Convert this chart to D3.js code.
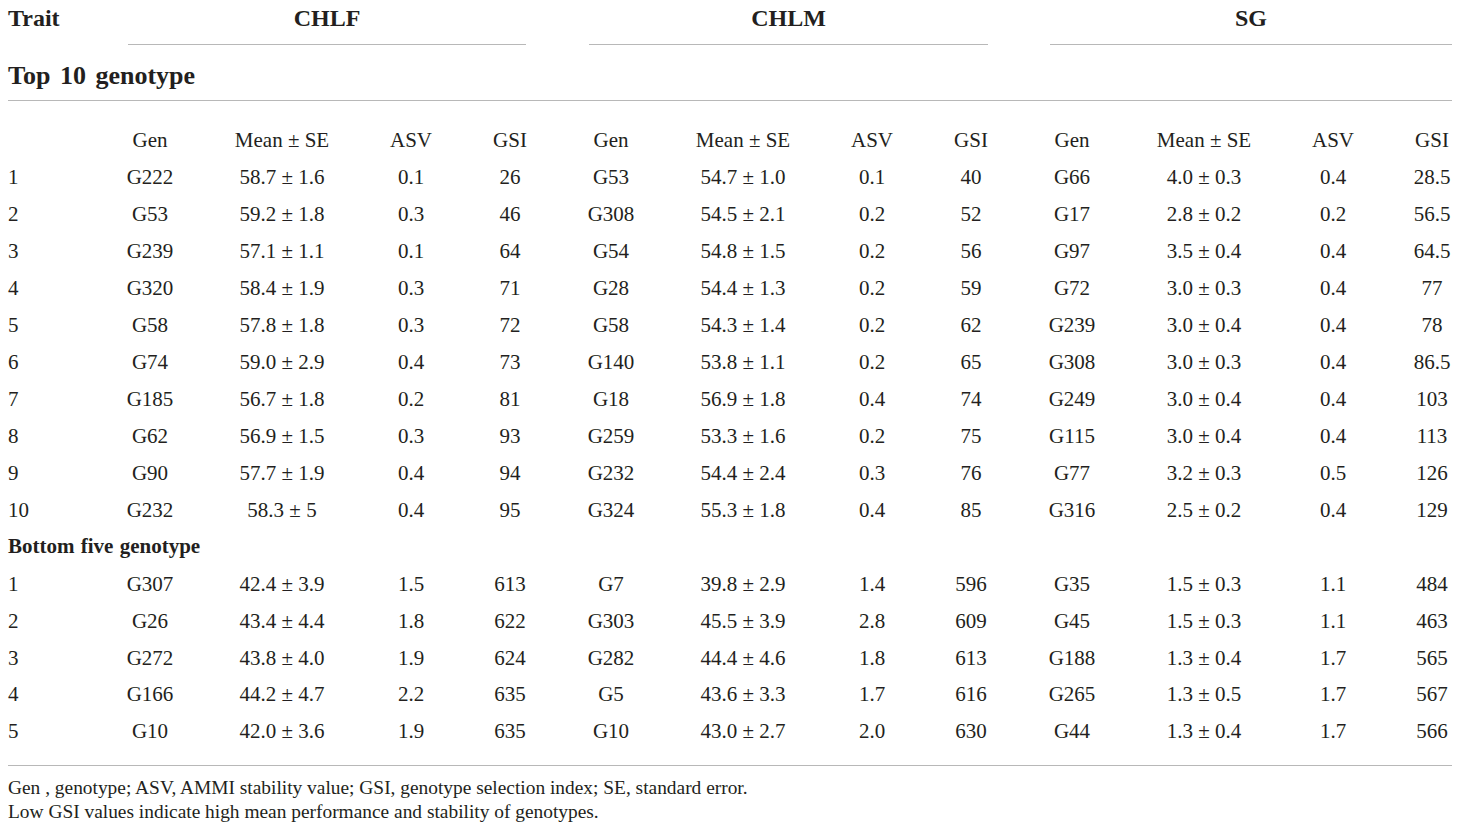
<!DOCTYPE html>
<html>
<head>
<meta charset="utf-8">
<script src="https://cdn.jsdelivr.net/npm/d3@7"></script>
<style>
  body { margin: 0; background: #fff; }
  svg text { font-family: "Liberation Serif", "Times New Roman", serif; fill: #231f20; }
</style>
</head>
<body>
<div id="table"></div>
<script>
// traits and column labels
const traits = ["CHLF", "CHLM", "SG"]
const subCols = ["Gen", "Mean ± SE", "ASV", "GSI"]

// top 10 genotypes per trait
const topGen = {
  CHLF: ["G222", "G53", "G239", "G320", "G58", "G74", "G185", "G62", "G90", "G232"],
  CHLM: ["G53", "G308", "G54", "G28", "G58", "G140", "G18", "G259", "G232", "G324"],
  SG:   ["G66", "G17", "G97", "G72", "G239", "G308", "G249", "G115", "G77", "G316"]
}
const topMean = {
  CHLF: ["58.7 ± 1.6", "59.2 ± 1.8", "57.1 ± 1.1", "58.4 ± 1.9", "57.8 ± 1.8", "59.0 ± 2.9", "56.7 ± 1.8", "56.9 ± 1.5", "57.7 ± 1.9", "58.3 ± 5"],
  CHLM: ["54.7 ± 1.0", "54.5 ± 2.1", "54.8 ± 1.5", "54.4 ± 1.3", "54.3 ± 1.4", "53.8 ± 1.1", "56.9 ± 1.8", "53.3 ± 1.6", "54.4 ± 2.4", "55.3 ± 1.8"],
  SG:   ["4.0 ± 0.3", "2.8 ± 0.2", "3.5 ± 0.4", "3.0 ± 0.3", "3.0 ± 0.4", "3.0 ± 0.3", "3.0 ± 0.4", "3.0 ± 0.4", "3.2 ± 0.3", "2.5 ± 0.2"]
}
const topASV = {
  CHLF: ["0.1", "0.3", "0.1", "0.3", "0.3", "0.4", "0.2", "0.3", "0.4", "0.4"],
  CHLM: ["0.1", "0.2", "0.2", "0.2", "0.2", "0.2", "0.4", "0.2", "0.3", "0.4"],
  SG:   ["0.4", "0.2", "0.4", "0.4", "0.4", "0.4", "0.4", "0.4", "0.5", "0.4"]
}
const topGSI = {
  CHLF: ["26", "46", "64", "71", "72", "73", "81", "93", "94", "95"],
  CHLM: ["40", "52", "56", "59", "62", "65", "74", "75", "76", "85"],
  SG:   ["28.5", "56.5", "64.5", "77", "78", "86.5", "103", "113", "126", "129"]
}

// bottom five genotypes per trait
const botGen = {
  CHLF: ["G307", "G26", "G272", "G166", "G10"],
  CHLM: ["G7", "G303", "G282", "G5", "G10"],
  SG:   ["G35", "G45", "G188", "G265", "G44"]
}
const botMean = {
  CHLF: ["42.4 ± 3.9", "43.4 ± 4.4", "43.8 ± 4.0", "44.2 ± 4.7", "42.0 ± 3.6"],
  CHLM: ["39.8 ± 2.9", "45.5 ± 3.9", "44.4 ± 4.6", "43.6 ± 3.3", "43.0 ± 2.7"],
  SG:   ["1.5 ± 0.3", "1.5 ± 0.3", "1.3 ± 0.4", "1.3 ± 0.5", "1.3 ± 0.4"]
}
const botASV = {
  CHLF: ["1.5", "1.8", "1.9", "2.2", "1.9"],
  CHLM: ["1.4", "2.8", "1.8", "1.7", "2.0"],
  SG:   ["1.1", "1.1", "1.7", "1.7", "1.7"]
}
const botGSI = {
  CHLF: ["613", "622", "624", "635", "635"],
  CHLM: ["596", "609", "613", "616", "630"],
  SG:   ["484", "463", "565", "567", "566"]
}

const footnotes = [
  "Gen , genotype; ASV, AMMI stability value; GSI, genotype selection index; SE, standard error.",
  "Low GSI values indicate high mean performance and stability of genotypes."
]

// layout
const W = 1460, H = 831
const svg = d3.select("#table")
  .append("svg")
    .attr("width", W)
    .attr("height", H)

const lineColor = "#b8b8b8"
const bodySize = 21

// horizontal position of each trait block and its sub columns
const traitX = d3.scaleOrdinal().domain(traits).range([0, 461, 922])
const subX = d3.scaleOrdinal().domain(subCols).range([150, 282, 411, 510])
const spanX = d3.scaleOrdinal().domain(traits).range([[128, 526], [589, 988], [1050, 1452]])

// row positions (baseline)
const yTop = d3.scaleLinear().domain([0, 9]).range([184, 517])
const yBot = d3.scaleLinear().domain([0, 4]).range([591, 738])

// header
svg.append("text")
  .attr("x", 8).attr("y", 26)
  .style("font-size", "24px").style("font-weight", "bold")
  .text("Trait")

const head = svg.append("g")
head.selectAll("text")
  .data(traits)
  .join("text")
    .attr("x", d => (spanX(d)[0] + spanX(d)[1]) / 2)
    .attr("y", 26)
    .attr("text-anchor", "middle")
    .style("font-size", "24px").style("font-weight", "bold")
    .text(d => d)
head.selectAll("line")
  .data(traits)
  .join("line")
    .attr("x1", d => spanX(d)[0]).attr("x2", d => spanX(d)[1])
    .attr("y1", 44.5).attr("y2", 44.5)
    .style("stroke", lineColor).style("stroke-width", 1.2)

svg.append("text")
  .attr("x", 8).attr("y", 84)
  .style("font-size", "26px").style("font-weight", "bold")
  .style("word-spacing", "3px")
  .text("Top 10 genotype")

svg.append("line")
  .attr("x1", 8).attr("x2", 1452)
  .attr("y1", 100.5).attr("y2", 100.5)
  .style("stroke", lineColor).style("stroke-width", 1.2)

// column header row
const colHead = []
traits.forEach(t => subCols.forEach(c => colHead.push({ x: traitX(t) + subX(c), label: c })))
svg.append("g")
  .selectAll("text")
  .data(colHead)
  .join("text")
    .attr("x", d => d.x).attr("y", 147)
    .attr("text-anchor", "middle")
    .style("font-size", bodySize + "px")
    .text(d => d.label)

// body rows
function drawBlock(n, y, gen, mean, asv, gsi) {
  const cells = []
  for (let i = 0; i < n; i++) {
    cells.push({ x: 8, y: y(i), v: String(i + 1), anchor: "start" })
    traits.forEach(t => {
      const vals = [gen[t][i], mean[t][i], asv[t][i], gsi[t][i]]
      subCols.forEach((c, j) => cells.push({ x: traitX(t) + subX(c), y: y(i), v: vals[j], anchor: "middle" }))
    })
  }
  svg.append("g")
    .selectAll("text")
    .data(cells)
    .join("text")
      .attr("x", d => d.x).attr("y", d => d.y)
      .attr("text-anchor", d => d.anchor)
      .style("font-size", bodySize + "px")
      .text(d => d.v)
}

drawBlock(10, yTop, topGen, topMean, topASV, topGSI)

svg.append("text")
  .attr("x", 8).attr("y", 553)
  .style("font-size", "21px").style("font-weight", "bold")
  .style("word-spacing", "1px")
  .text("Bottom five genotype")

drawBlock(5, yBot, botGen, botMean, botASV, botGSI)

svg.append("line")
  .attr("x1", 8).attr("x2", 1452)
  .attr("y1", 765.5).attr("y2", 765.5)
  .style("stroke", lineColor).style("stroke-width", 1.2)

svg.append("g")
  .selectAll("text")
  .data(footnotes)
  .join("text")
    .attr("x", 8).attr("y", (d, i) => 794 + i * 24)
    .style("font-size", "19.4px")
    .text(d => d)
</script>
</body>
</html>
